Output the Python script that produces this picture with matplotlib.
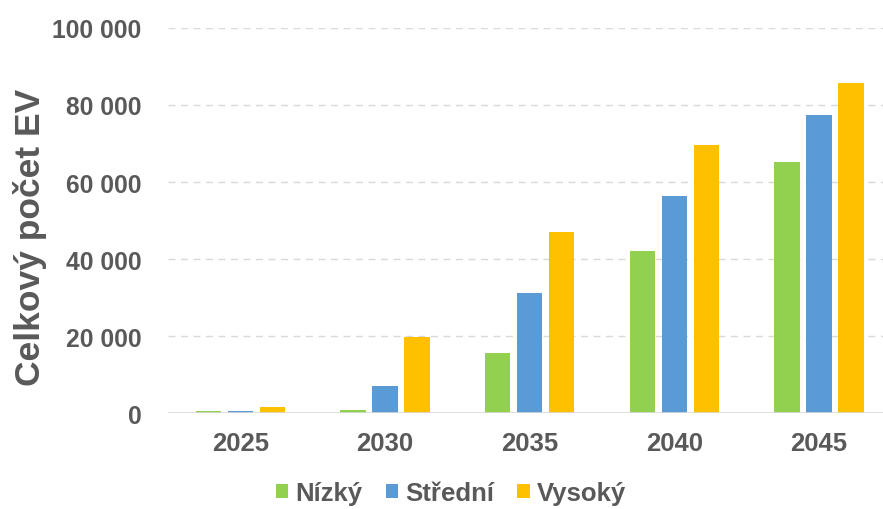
import matplotlib.pyplot as plt
import numpy as np
from matplotlib.ticker import FuncFormatter

years = ["2025", "2030", "2035", "2040", "2045"]
nizky = [500, 900, 15600, 42200, 65200]
stredni = [500, 7000, 31200, 56500, 77400]
vysoky = [1600, 19700, 47100, 69700, 85600]
series_names = ["Nízký", "Střední", "Vysoký"]
colors = ["#92D050", "#5B9BD5", "#FFC000"]
y_ticks = [0, 20000, 40000, 60000, 80000, 100000]

plt.rcParams["font.family"] = ["Liberation Sans", "DejaVu Sans"]
plt.rcParams["font.weight"] = "bold"
text_color = "#595959"

fig = plt.figure(figsize=(8.83, 5.10), dpi=100)
W, H = 883, 510
left, right = 168, 883
y0, y100 = 414.4, 28.9
ax = fig.add_axes([left / W, 1 - y0 / H, (right - left) / W, (y0 - y100) / H])

x = np.arange(len(years))
width = 0.176
offset = 0.221
for i, (vals, name, c) in enumerate(zip([nizky, stredni, vysoky], series_names, colors)):
    ax.bar(x + (i - 1) * offset, vals, width=width, color=c, label=name, zorder=3)

ax.set_ylim(0, 100000)
ax.set_xlim(-0.5, (883 - 241) / 144.5)
ax.set_yticks(y_ticks)
ax.yaxis.set_major_formatter(FuncFormatter(lambda v, p: f"{int(v):,}".replace(",", " ")))
ax.set_xticks(x)
ax.set_xticklabels(years)

for yv in y_ticks[1:]:
    ax.axhline(yv, color="#D9D9D9", lw=1, ls=(0, (5, 4)), zorder=1)
ax.axhline(0, color="#D9D9D9", lw=1.2, zorder=4)

for s in ax.spines.values():
    s.set_visible(False)
ax.tick_params(axis="both", length=0, colors=text_color)
ax.tick_params(axis="y", pad=19, labelsize=17.7)
ax.tick_params(axis="x", pad=13, labelsize=18.5)
for lab in ax.get_xticklabels() + ax.get_yticklabels():
    lab.set_fontweight("bold")

fig.text(30 / W, 1 - 237 / H, "Celkový počet EV", rotation=90, ha="center", va="center",
         fontsize=25.5, fontweight="bold", color=text_color)

leg = fig.legend(loc="center", bbox_to_anchor=(451 / W, 1 - 494 / H), ncol=3, frameon=False,
                 handlelength=0.47, handleheight=0.47, handletextpad=0.3, columnspacing=0.9,
                 prop={"size": 18.5, "weight": "bold"})
for t in leg.get_texts():
    t.set_color(text_color)

fig.savefig("out.png", dpi=100, facecolor="white")
